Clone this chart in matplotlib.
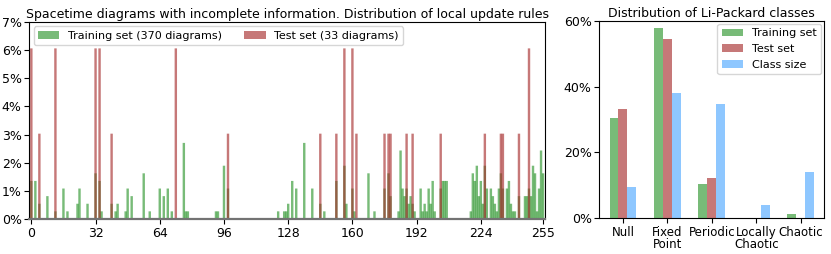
import numpy as np
import matplotlib.pyplot as plt
from matplotlib.ticker import PercentFormatter

# local update rules (0..255), counts per rule
train_rules = [0, 2, 4, 8, 12, 16, 18, 23, 24, 28, 32, 34, 35, 40, 42, 43, 47, 48, 50, 56,
               59, 64, 66, 68, 70, 76, 77, 78, 92, 93, 96, 98, 123, 126, 127, 128, 130, 132,
               136, 140, 144, 146, 152, 156, 157, 160, 161, 168, 171, 176, 178, 179, 183,
               184, 185, 186, 187, 188, 189, 190, 191, 194, 195, 196, 197, 198, 199, 200,
               201, 204, 205, 206, 207, 219, 220, 221, 222, 223, 224, 225, 226, 227, 229,
               230, 231, 232, 233, 234, 235, 237, 238, 239, 240, 241, 243, 246, 247, 248,
               249, 250, 251, 252, 253, 254, 255]
train_counts = [5, 5, 2, 3, 1, 4, 1, 2, 4, 2, 6, 5, 1, 2, 1, 2, 1, 4, 3, 6,
                1, 4, 3, 4, 1, 10, 1, 1, 1, 1, 7, 4, 1, 1, 1, 2, 5, 4,
                10, 4, 2, 1, 5, 7, 2, 4, 1, 6, 1, 4, 6, 3, 1,
                9, 4, 3, 4, 2, 3, 2, 1, 4, 1, 2, 1, 4, 2, 5,
                1, 4, 5, 5, 5, 1, 6, 5, 7, 3, 5, 2, 7, 4, 4,
                3, 2, 1, 4, 6, 4, 4, 5, 2, 1, 1, 3, 3, 3, 4,
                3, 7, 6, 1, 4, 9, 6]
n_train = 370

test_rules = [0, 4, 12, 32, 34, 40, 72, 98, 144, 152, 156, 160, 162, 176, 178, 179,
              187, 190, 204, 226, 234, 235, 243, 248]
test_counts = [2, 1, 2, 2, 2, 1, 2, 1, 1, 1, 2, 2, 1, 1, 1, 1,
               1, 1, 1, 1, 1, 1, 1, 2]
n_test = 33

# Li-Packard classes
classes = ['Null', 'Fixed\nPoint', 'Periodic', 'Locally\nChaotic', 'Chaotic']
class_train = [113, 214, 38, 0, 5]
class_test = [11, 18, 4, 0, 0]
class_size = [24, 97, 89, 10, 36]

green = 'green'
red = 'brown'
blue = 'dodgerblue'
fs = 9
fs_leg = 8

fig = plt.figure(figsize=(8.31, 2.54), dpi=100)
ax1 = fig.add_axes([0.0353, 0.138, 0.6206, 0.7756])
ax2 = fig.add_axes([0.7212, 0.1406, 0.2708, 0.778])

tr = np.array(train_counts) / n_train * 100
te = np.array(test_counts) / n_test * 100
ax1.bar(train_rules, tr, width=1.2, color=green, alpha=0.53, linewidth=0, snap=False,
        label=f'Training set ({n_train} diagrams)')
ax1.bar(test_rules, te, width=1.2, color=red, alpha=0.63, linewidth=0, snap=False,
        label=f'Test set ({n_test} diagrams)')
ax1.set_xlim(-1, 256)
ax1.set_ylim(0, 7)
ax1.set_xticks([0, 32, 64, 96, 128, 160, 192, 224, 255])
ax1.set_yticks(range(8))
ax1.yaxis.set_major_formatter(PercentFormatter(decimals=0))
ax1.spines['bottom'].set_color('0.45')
ax1.spines['bottom'].set_linewidth(1.6)
ax1.set_title('Spacetime diagrams with incomplete information. Distribution of local update rules',
              fontsize=fs, pad=3)
ax1.legend(loc='upper left', ncol=2, fontsize=fs_leg, borderaxespad=0.4,
           handlelength=1.9, columnspacing=2.0)
ax1.tick_params(labelsize=fs, pad=2)

x = np.arange(len(classes))
w = 0.2
ax2.bar(x - w, np.array(class_train) / n_train * 100, width=w, color=green, alpha=0.53,
        label='Training set')
ax2.bar(x, np.array(class_test) / n_test * 100, width=w, color=red, alpha=0.63,
        label='Test set')
ax2.bar(x + w, np.array(class_size) / 256 * 100, width=w, color=blue, alpha=0.5,
        label='Class size')
ax2.set_xticks(x)
ax2.set_xticklabels(classes, linespacing=0.95)
ax2.set_ylim(0, 60)
ax2.set_yticks([0, 20, 40, 60])
ax2.yaxis.set_major_formatter(PercentFormatter(decimals=0))
ax2.set_title('Distribution of Li-Packard classes', fontsize=fs, pad=3)
ax2.legend(loc='upper right', fontsize=fs_leg, borderaxespad=0.3,
           handlelength=1.9, labelspacing=0.5)
ax2.tick_params(labelsize=8.5, pad=2)
ax2.tick_params(axis='y', labelsize=fs)

fig.savefig('out.png', dpi=100)
